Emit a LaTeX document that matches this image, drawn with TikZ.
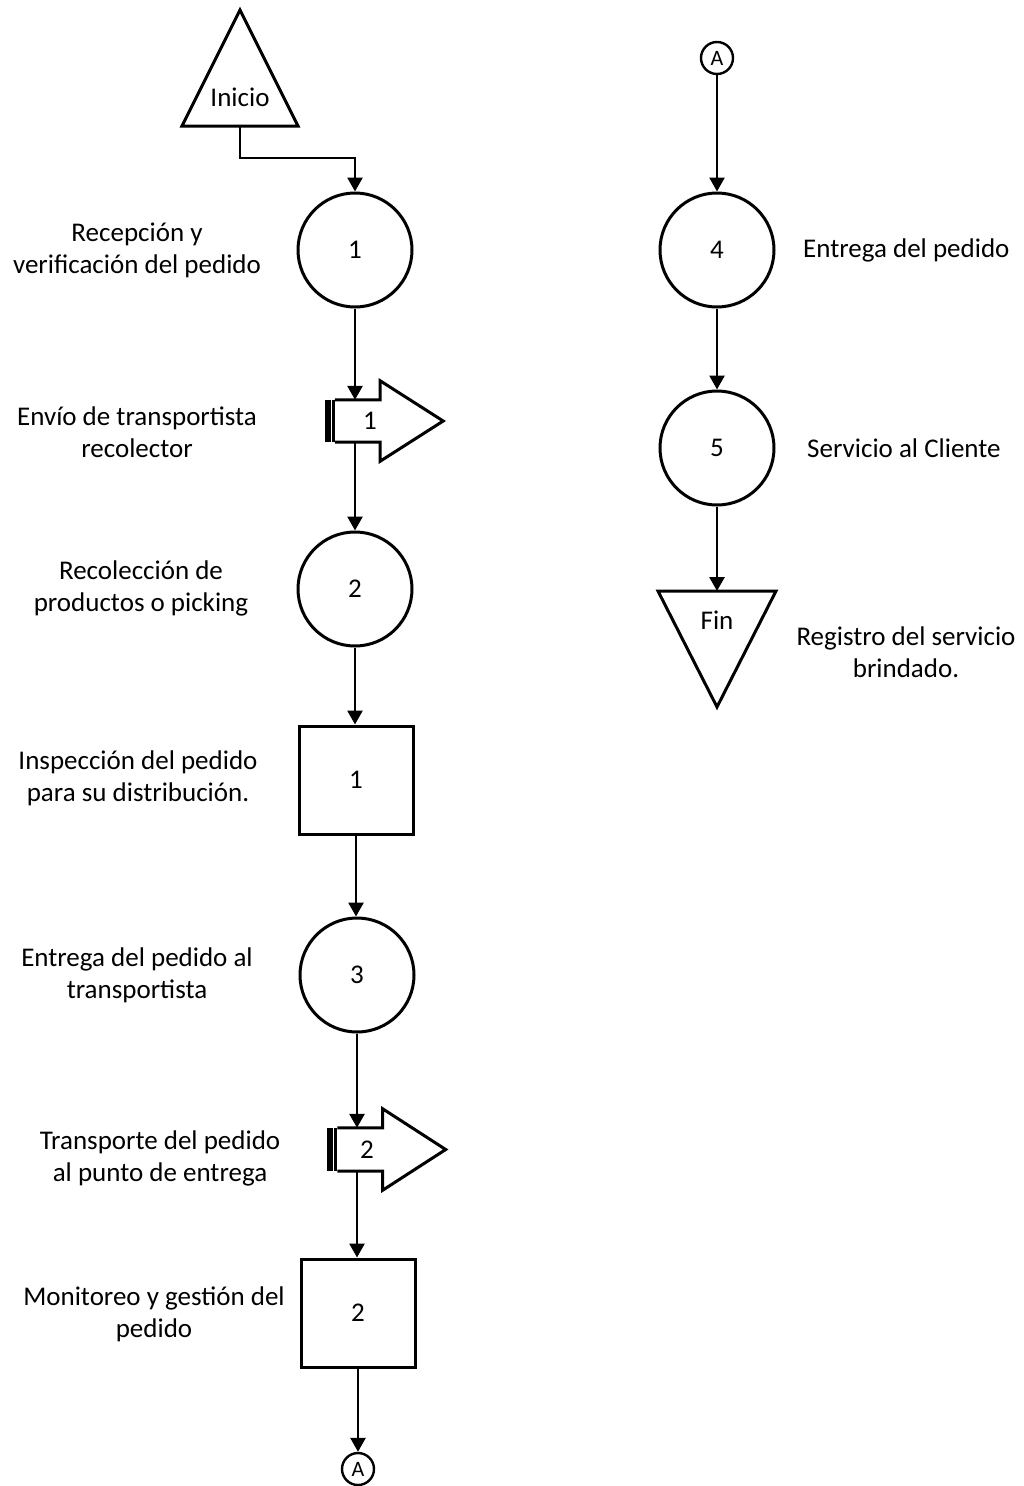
\documentclass[tikz,border=0pt]{standalone}
\usepackage{fontspec}
\setmainfont{Carlito}
\usetikzlibrary{arrows.meta,calc}
\newcommand\lblfont{\fontsize{27}{32}\selectfont}
\newcommand\conlfont{\fontsize{22}{26}\selectfont}
% transport symbol: black bar, body and arrow head drawn round a body node
\newcommand\drawtransport[1]{%
  \fill (#1.north west) rectangle ($(#1.south west)+(-10,0)$);
  \draw[white, line width=0.9pt] ($(#1.north west)+(-3.5,0)$) -- ($(#1.south west)+(-3.5,0)$);
  \draw[outline] (#1.north west) -- (#1.north east) -- ++(0,-19)
    -- ($(#1.east)+(63,0)$) -- ($(#1.south east)+(0,19)$)
    -- (#1.south east) -- (#1.south west);
}
\begin{document}
\begin{tikzpicture}[x=1pt,y=-1pt,
  outline/.style={line width=3pt, line join=miter},
  op/.style={draw, outline, circle, inner sep=0pt, minimum size=114pt, font=\lblfont},
  insp/.style={draw, outline, rectangle, inner sep=0pt, minimum width=114pt, minimum height=108pt, font=\lblfont},
  tbody/.style={rectangle, inner sep=0pt, minimum width=45pt, minimum height=42pt},
  frame/.style={rectangle, inner sep=0pt, outer sep=0pt},
  conn/.style={draw, line width=2.4pt, circle, inner sep=0pt, minimum size=32pt, font=\conlfont},
  arr/.style={line width=2.7pt, -{Triangle[length=14pt,width=15pt]}},
  lbl/.style={font=\lblfont, align=center, inner sep=0pt},
]
\useasboundingbox (0,0) rectangle (1024,1486);

% ---------- left column ----------
\node[frame, minimum width=116pt, minimum height=116pt] (ini) at (240,68) {};
\draw[outline] (ini.north) -- (ini.south east) -- (ini.south west) -- cycle;
\node[font=\lblfont] (initxt) at (240,97) {Inicio};

\node[op] (c1) at (355,250) {1};

\node[tbody] (t1) at (357.5,421) {};
\drawtransport{t1}
\node[font=\lblfont] (t1n) at (370,421) {1};

\node[op] (c2) at (355,589) {2};
\node[insp] (s1) at (356,780) {1};
\node[op] (c3) at (357,975) {3};

\node[tbody, minimum height=43pt] (t2) at (360,1149.5) {};
\drawtransport{t2}
\node[font=\lblfont] (t2n) at (367,1150) {2};

\node[insp] (s2) at (358,1313) {2};
\node[conn] (a2) at (358,1469) {A};

\draw[arr] (ini.south) -- ++(0,32) -| (c1.north);
\draw[arr] (c1.south) -- (c1.south |- t1.north);
\draw[arr] (c1.south |- t1.south) -- (c2.north);
\draw[arr] (c2.south) -- (c2.south |- s1.north);
\draw[arr] (s1.south) -- (s1.south |- c3.north);
\draw[arr] (c3.south) -- (c3.south |- t2.north);
\draw[arr] (c3.south |- t2.south) -- (c3.south |- s2.north);
\draw[arr] (s2.south) -- (a2.north);

% ---------- right column ----------
\node[conn] (a1) at (717,58) {A};
\node[op] (c4) at (717,250) {4};
\node[op] (c5) at (717,448) {5};
\node[frame, minimum width=118pt, minimum height=116pt] (fin) at (717,649) {};
\draw[outline] (fin.north west) -- (fin.north east) -- (fin.south) -- cycle;
\node[font=\lblfont] (fintxt) at (717,620) {Fin};

\draw[arr] (a1.south) -- (c4.north);
\draw[arr] (c4.south) -- (c5.north);
\draw[arr] (c5.south) -- (fin.north);

% ---------- labels ----------
\node[lbl] (l1) at (137,250) {Recepción y\\verificación del pedido};
\node[lbl] (l2) at (137,432) {Envío de transportista\\recolector};
\node[lbl] (l3) at (141,588) {Recolección de\\productos o picking};
\node[lbl] (l4) at (138,778) {Inspección del pedido\\para su distribución.};
\node[lbl] (l5) at (137,975) {Entrega del pedido al\\transportista};
\node[lbl] (l6) at (160,1158) {Transporte del pedido\\al punto de entrega};
\node[lbl] (l7) at (154,1314) {Monitoreo y gestión del\\pedido};
\node[lbl, anchor=west] (r1) at (803,250) {Entrega del pedido};
\node[lbl, anchor=west] (r2) at (807,448) {Servicio al Cliente};
\node[lbl] (r3) at (906,652) {Registro del servicio\\brindado.};
\end{tikzpicture}
\end{document}
